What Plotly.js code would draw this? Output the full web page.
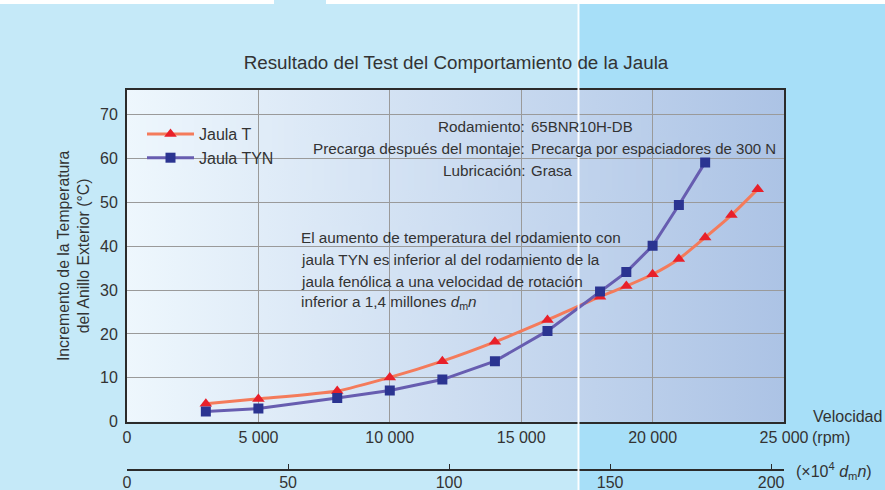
<!DOCTYPE html>
<html>
<head>
<meta charset="utf-8">
<script src="https://cdn.plot.ly/plotly-3.0.1.min.js"></script>
<style>
  html, body { margin: 0; padding: 0; background: #c5e9f8; }
  #chart { width: 885px; height: 490px; }
</style>
</head>
<body>
<div id="chart"></div>
<script>
// ---------------- data ----------------
const rpmT      = [3000, 5000, 8000, 10000, 12000, 14000, 16000, 18000, 19000, 20000, 21000, 22000, 23000, 24000];
const tempT     = [4.1, 5.2, 7.0, 10.1, 13.8, 18.2, 23.2, 28.5, 30.9, 33.6, 37.1, 42.0, 47.1, 53.0];
const rpmTYN    = [3000, 5000, 8000, 10000, 12000, 14000, 16000, 18000, 19000, 20000, 21000, 22000];
const tempTYN   = [2.3, 3.0, 5.4, 7.1, 9.6, 13.8, 20.7, 29.7, 34.1, 40.1, 49.4, 59.1];

const rpmTickVals   = [0, 5000, 10000, 15000, 20000, 25000];
const rpmTickLabels = ["0", "5 000", "10 000", "15 000", "20 000", "25 000"];
const dmnTickVals   = [0, 50, 100, 150, 200];
const dmnTickLabels = ["0", "50", "100", "150", "200"];
const tempTickVals  = [0, 10, 20, 30, 40, 50, 60, 70];

const seriesNames = ["Jaula T", "Jaula TYN"];
const titleText = "Resultado del Test del Comportamiento de la Jaula";
const yTitle = "Incremento de la Temperatura<br>del Anillo Exterior (°C)";
const condLabels = ["Rodamiento:", "Precarga después del montaje:", "Lubricación:"];
const condValues = ["65BNR10H-DB", "Precarga por espaciadores de 300 N", "Grasa"];
const noteLines = [
  "El aumento de temperatura del rodamiento con",
  "jaula TYN es inferior al del rodamiento de la",
  "jaula fenólica a una velocidad de rotación",
  "inferior a 1,4 millones <i>d</i><sub>m</sub><i>n</i>"
];

// ---------------- geometry / style ----------------
const W = 885, H = 490;
const L = 127, R = 784, T = 90, B = 421.7, B2 = 469;
const px2x = p => (p - L) / (R - L);
const py2y = p => (B2 - p) / (B2 - T);
const FONT = "Liberation Sans, Arial, Helvetica, sans-serif";
const TXT = "#333333";
const gL = [238, 247, 253], gR = [172, 195, 229];
function grad(px) {
  const f = Math.max(0, Math.min(1, (px - L) / (R - L)));
  const c = gL.map((v, i) => Math.round(v + (gR[i] - v) * f));
  return "rgb(" + c.join(",") + ")";
}

// background image (page panels + plot gradient)
const cv = document.createElement("canvas");
cv.width = W; cv.height = H;
const ctx = cv.getContext("2d");
ctx.fillStyle = "#c5e9f8"; ctx.fillRect(0, 0, W, H);
ctx.fillStyle = "#a7dff8"; ctx.fillRect(579, 0, W - 579, H);
ctx.fillStyle = "#ffffff"; ctx.fillRect(0, 0, 274, 4); ctx.fillRect(326, 0, W - 326, 4);
const lg = ctx.createLinearGradient(L, 0, R, 0);
lg.addColorStop(0, grad(L)); lg.addColorStop(1, grad(R));
ctx.fillStyle = lg; ctx.fillRect(L, T, R - L, B - T);
const bgURL = cv.toDataURL("image/png");

// boxes that hide the grid behind the texts (between grid and traces)
const gapBoxes = [[140, 292, 117, 168], [300, 705, 137, 190], [425, 645, 116, 137], [296, 623, 226, 314]];
const shapes = [];
gapBoxes.forEach(b => {
  for (let x = b[0]; x < b[1]; x += 6) {
    const x1 = Math.min(x + 6, b[1]);
    shapes.push({type: "rect", layer: "between", xref: "paper", yref: "paper",
      x0: px2x(x), x1: px2x(x1 + 0.5), y0: py2y(b[3]), y1: py2y(b[2]),
      fillcolor: grad((x + x1) / 2), line: {width: 0}});
  }
});
shapes.push({type: "line", layer: "above", xref: "paper", yref: "paper",
  x0: px2x(578.5), x1: px2x(578.5), y0: py2y(H), y1: py2y(0),
  line: {color: "rgba(255,255,255,0.95)", width: 2}});

// ---------------- traces ----------------
const traces = [
  {x: rpmT, y: tempT, name: seriesNames[0], type: "scatter", mode: "lines+markers",
   line: {color: "#f47b5b", width: 3, shape: "spline", smoothing: 0.6},
   marker: {symbol: "triangle-up", size: 11, color: "#e8202a"}},
  {x: rpmTYN, y: tempTYN, name: seriesNames[1], type: "scatter", mode: "lines+markers",
   line: {color: "#675db0", width: 3},
   marker: {symbol: "square", size: 10, color: "#2b3491"}},
  // empty trace so that the secondary (×10^4 dmn) axis is drawn
  {x: [], y: [], xaxis: "x2", yaxis: "y", type: "scatter", mode: "markers",
   showlegend: false, hoverinfo: "skip"}
];

// ---------------- annotations ----------------
const ann = [];
const AF = 15.3;
const condY = [126, 148, 170];
condLabels.forEach((t, i) => {
  ann.push({text: t, xref: "paper", yref: "paper", x: px2x(526.5), y: py2y(condY[i]),
    xanchor: "right", yanchor: "middle", showarrow: false, font: {size: AF, color: TXT, family: FONT}});
  ann.push({text: condValues[i], xref: "paper", yref: "paper", x: px2x(529), y: py2y(condY[i]),
    xanchor: "left", yanchor: "middle", showarrow: false, font: {size: 15, color: TXT, family: FONT}});
});
const noteY = [238, 259.5, 281, 302.5];
noteLines.forEach((t, i) => {
  ann.push({text: t, xref: "paper", yref: "paper", x: px2x(299), y: py2y(noteY[i]),
    xanchor: "left", yanchor: "middle", showarrow: false, font: {size: AF, color: TXT, family: FONT}});
});
ann.push({text: "Velocidad", xref: "paper", yref: "paper", x: px2x(884), y: py2y(416),
  xanchor: "right", yanchor: "middle", showarrow: false, font: {size: 16, color: TXT, family: FONT}});
ann.push({text: "(rpm)", xref: "paper", yref: "paper", x: px2x(810), y: py2y(437),
  xanchor: "left", yanchor: "middle", showarrow: false, font: {size: 16, color: TXT, family: FONT}});
ann.push({text: "(×10<sup>4</sup> <i>d</i><sub>m</sub><i>n</i>)", xref: "paper", yref: "paper", x: px2x(794), y: py2y(471),
  xanchor: "left", yanchor: "middle", showarrow: false, font: {size: 16, color: TXT, family: FONT}});

// ---------------- layout ----------------
const layout = {
  width: W, height: H,
  margin: {l: L, r: W - R, t: T, b: H - B2, pad: 0},
  paper_bgcolor: "#c5e9f8",
  plot_bgcolor: "rgba(0,0,0,0)",
  font: {family: FONT, color: TXT, size: 16},
  title: {text: titleText, font: {size: 18.8, color: TXT, family: FONT},
          xref: "paper", x: px2x(456), xanchor: "center", yref: "container", y: 1 - 62 / H, yanchor: "middle"},
  showlegend: true,
  legend: {x: px2x(142), y: py2y(117), xanchor: "left", yanchor: "top", bgcolor: "rgba(0,0,0,0)",
           font: {size: 16, color: TXT, family: FONT}, itemwidth: 47, tracegroupgap: 0},
  xaxis: {range: [0, 25000], tickmode: "array", tickvals: rpmTickVals, ticktext: rpmTickLabels,
          showgrid: true, gridcolor: "#9a9a9a", gridwidth: 1, zeroline: false,
          showline: true, linecolor: "#2b2b2b", linewidth: 2, mirror: true, ticks: "",
          tickfont: {size: 16, color: TXT, family: FONT}, anchor: "y", fixedrange: true},
  xaxis2: {overlaying: "x", anchor: "free", position: 0, side: "bottom", range: [0, 204],
           tickmode: "array", tickvals: dmnTickVals, ticktext: dmnTickLabels,
           showgrid: false, zeroline: false, showline: true, linecolor: "#2b2b2b", linewidth: 1.5,
           ticks: "inside", ticklen: 5, tickwidth: 1, tickcolor: "#2b2b2b", ticklabelstandoff: -2,
           tickfont: {size: 16, color: TXT, family: FONT}, fixedrange: true},
  yaxis: {domain: [py2y(B), 1], range: [0, 75.6], tickmode: "array", tickvals: tempTickVals,
          showgrid: true, gridcolor: "#9a9a9a", gridwidth: 1, zeroline: false,
          showline: true, linecolor: "#2b2b2b", linewidth: 2, mirror: true, ticks: "",
          ticklabelstandoff: 4,
          tickfont: {size: 16, color: TXT, family: FONT},
          title: {text: yTitle, font: {size: 15.8, color: TXT, family: FONT}, standoff: 6}, fixedrange: true},
  images: [{source: bgURL, xref: "paper", yref: "paper", x: px2x(0), y: py2y(0),
            sizex: W / (R - L), sizey: H / (B2 - T), xanchor: "left", yanchor: "top",
            sizing: "stretch", layer: "below"}],
  shapes: shapes,
  annotations: ann
};

Plotly.newPlot("chart", traces, layout, {displayModeBar: false, staticPlot: true});
</script>
</body>
</html>
